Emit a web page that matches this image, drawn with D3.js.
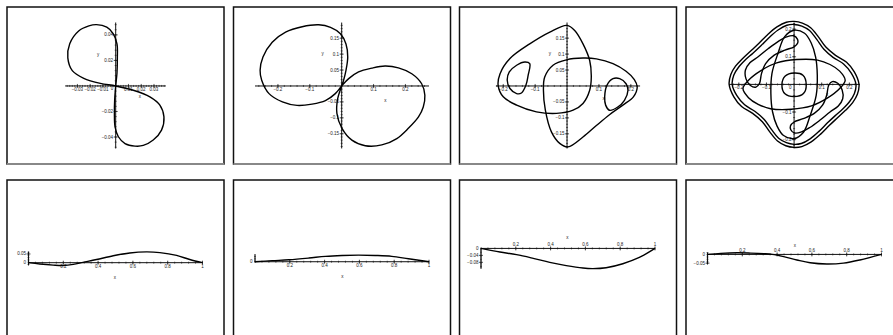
<!DOCTYPE html>
<html>
<head>
<meta charset="utf-8">
<script src="https://cdn.jsdelivr.net/npm/d3@7"></script>
<style>
    body { margin: 0; background: #fff; }
    svg { display: block; }
    .lbl { font-family: "Liberation Sans", Arial, sans-serif; font-size: 4.5px; fill: #222; }
</style>
</head>
<body>
<div id="chart"></div>
<script>
/* * * * * * * * * * * * * *
*   Maple style plot grid  *
* * * * * * * * * * * * * */

// ---- curve data (x, y in plot units) ----

// panel 1: figure eight through the origin
const p1Curve = [[0,0],[-0.012,0.002],[-0.025,0.006],[-0.034,0.012],[-0.0375,0.022],[-0.036,0.033],[-0.029,0.043],
    [-0.021,0.047],[-0.015,0.048],[-0.007,0.046],[-0.002,0.041],[0.001,0.033],[0.0013,0.022],[0.001,0.010],
    [0,0],[-0.0008,-0.011],[-0.001,-0.0216],[-0.0005,-0.032],[0.0021,-0.0398],[0.0073,-0.0451],[0.0151,-0.0471],
    [0.0216,-0.0466],[0.0294,-0.0424],[0.0359,-0.0346],[0.0378,-0.0242],[0.0346,-0.0151],[0.0268,-0.0086],[0.0138,-0.0034]];

// panel 2: two lobes through the origin
const p2Curve = [[0,0],[-0.020,-0.024],[-0.051,-0.046],[-0.093,-0.057],[-0.140,-0.061],[-0.186,-0.050],[-0.228,-0.024],
    [-0.251,0.018],[-0.256,0.049],[-0.247,0.091],[-0.218,0.1375],[-0.176,0.169],[-0.124,0.186],[-0.072,0.192],
    [-0.035,0.184],[-0.004,0.164],[0.0135,0.132],[0.019,0.091],[0.0135,0.049],[0.006,0.018],
    [0,0],[-0.0125,-0.040],[-0.015,-0.086],[0.001,-0.133],[0.032,-0.170],[0.074,-0.1875],[0.126,-0.185],
    [0.173,-0.165],[0.209,-0.133],[0.241,-0.097],[0.256,-0.066],[0.261,-0.029],[0.251,0.007],[0.220,0.0385],
    [0.178,0.057],[0.136,0.0625],[0.095,0.056],[0.053,0.044],[0.022,0.023]];

// panel 3: two big loops and two small ones
const p3BigA = [[0,0.190],[-0.054,0.169],[-0.117,0.132],[-0.179,0.086],[-0.210,0.0385],[-0.216,0.002],[-0.200,-0.034],
    [-0.158,-0.060],[-0.096,-0.081],[-0.033,-0.086],[0.019,-0.076],[0.050,-0.055],[0.071,-0.0135],[0.076,0.028],
    [0.071,0.080],[0.050,0.132],[0.024,0.174]];
const p3BigB = [[0.003,-0.191],[0.050,-0.160],[0.092,-0.124],[0.133,-0.090],[0.175,-0.060],[0.208,-0.034],[0.220,-0.003],
    [0.211,0.020],[0.185,0.046],[0.144,0.070],[0.092,0.085],[0.050,0.0875],[-0.002,0.082],[-0.044,0.065],
    [-0.070,0.028],[-0.074,-0.0135],[-0.068,-0.076],[-0.049,-0.144],[-0.023,-0.180]];
const p3SmallA = [[-0.117,0.070],[-0.132,0.075],[-0.158,0.065],[-0.181,0.044],[-0.1875,0.018],[-0.179,-0.008],
    [-0.158,-0.024],[-0.143,-0.022],[-0.129,0.002],[-0.122,0.033]];
const p3SmallB = [[0.144,0.023],[0.165,0.023],[0.185,0.007],[0.191,-0.0135],[0.180,-0.045],[0.159,-0.066],
    [0.133,-0.076],[0.121,-0.060],[0.118,-0.034],[0.125,0.002]];

// panel 4: double outer ring, two ovals, two S loops, small core
const p4RingA = [[0,0.228],[0.030,0.222],[0.060,0.205],[0.088,0.172],[0.115,0.135],[0.150,0.105],[0.190,0.080],[0.218,0.045],
    [0.235,0],[0.229,-0.036],[0.212,-0.066],[0.186,-0.094],[0.158,-0.120],[0.128,-0.148],[0.096,-0.180],[0.062,-0.208],[0.028,-0.225],
    [0,-0.228],[-0.030,-0.222],[-0.060,-0.205],[-0.088,-0.172],[-0.115,-0.135],[-0.150,-0.105],[-0.190,-0.080],[-0.218,-0.045],
    [-0.235,0],[-0.229,0.036],[-0.212,0.066],[-0.186,0.094],[-0.158,0.120],[-0.128,0.148],[-0.096,0.180],[-0.062,0.208],[-0.028,0.225]];
const p4RingB = [[0,0.217],[0.028,0.211],[0.056,0.195],[0.082,0.163],[0.108,0.127],[0.141,0.098],[0.179,0.074],[0.207,0.041],
    [0.224,0],[0.218,-0.034],[0.201,-0.062],[0.176,-0.089],[0.149,-0.113],[0.120,-0.140],[0.090,-0.170],[0.058,-0.197],[0.026,-0.214],
    [0,-0.217],[-0.028,-0.211],[-0.056,-0.195],[-0.082,-0.163],[-0.108,-0.127],[-0.141,-0.098],[-0.179,-0.074],[-0.207,-0.041],
    [-0.224,0],[-0.218,0.034],[-0.201,0.062],[-0.176,0.089],[-0.149,0.113],[-0.120,0.140],[-0.090,0.170],[-0.058,0.197],[-0.026,0.214]];
const p4Vert = [[0,0.196],[0.038,0.185],[0.062,0.150],[0.078,0.099],[0.084,0.033],[0.080,-0.040],[0.058,-0.113],[0.034,-0.173],
    [0,-0.196],[-0.038,-0.185],[-0.062,-0.150],[-0.078,-0.099],[-0.084,-0.033],[-0.080,0.040],[-0.058,0.113],[-0.034,0.173]];
const p4Horiz = [[0.185,0.015],[0.165,0.048],[0.130,0.072],[0.085,0.088],[0.010,0.090],[-0.063,0.078],[-0.120,0.050],[-0.165,0.015],
    [-0.185,-0.015],[-0.165,-0.048],[-0.130,-0.072],[-0.085,-0.088],[-0.010,-0.090],[0.063,-0.078],[0.120,-0.050],[0.165,-0.015]];
const p4LoopA = [[0.012,0.164],[-0.002,0.176],[-0.027,0.172],[-0.057,0.156],[-0.093,0.130],[-0.130,0.100],[-0.160,0.078],
    [-0.176,0.052],[-0.174,0.020],[-0.158,-0.004],[-0.138,-0.010],[-0.125,0.004],[-0.118,0.039],[-0.103,0.075],
    [-0.073,0.105],[-0.033,0.124],[0,0.136],[0.013,0.150]];
const p4LoopB = [[-0.012,-0.164],[0.002,-0.176],[0.027,-0.172],[0.057,-0.156],[0.093,-0.130],[0.130,-0.100],[0.160,-0.078],
    [0.176,-0.052],[0.174,-0.020],[0.158,0.004],[0.138,0.010],[0.125,-0.004],[0.118,-0.039],[0.103,-0.075],
    [0.073,-0.105],[0.033,-0.124],[0,-0.136],[-0.013,-0.150]];
const p4Core = [[0,0.041],[0.032,0.033],[0.044,-0.001],[0.034,-0.033],[0,-0.044],[-0.033,-0.034],[-0.044,-0.001],[-0.032,0.030]];

// bottom row: functions on [0, 1]
const p5Curve = [[0,0],[0.065,-0.008],[0.142,-0.014],[0.199,-0.016],[0.257,-0.010],[0.314,0.002],[0.391,0.018],
    [0.487,0.040],[0.582,0.056],[0.678,0.062],[0.755,0.058],[0.851,0.042],[0.927,0.018],[1,0]];
const p6Curve = [[0,0],[0.099,0.006],[0.195,0.011],[0.309,0.021],[0.405,0.031],[0.5,0.036],[0.595,0.038],
    [0.691,0.036],[0.786,0.031],[0.882,0.017],[1,0]];
const p7Curve = [[0,0],[0.109,-0.021],[0.204,-0.036],[0.300,-0.057],[0.395,-0.080],[0.490,-0.099],[0.586,-0.113],
    [0.643,-0.116],[0.719,-0.111],[0.815,-0.088],[0.910,-0.052],[1,0]];
const p8Curve = [[0,0],[0.076,0.006],[0.171,0.0095],[0.248,0.0076],[0.324,0.004],[0.371,0],[0.438,-0.013],
    [0.514,-0.032],[0.590,-0.048],[0.686,-0.055],[0.781,-0.050],[0.876,-0.032],[1,0]];

// ---- axis extents and tick labels ----
const p1XExt = [-0.0396, 0.0393], p1YExt = [-0.049, 0.0497];
const p1XTicks = [-0.03, -0.02, -0.01, 0.01, 0.02, 0.03], p1YTicks = [-0.04, -0.02, 0.02, 0.04];
const p2XExt = [-0.272, 0.274], p2YExt = [-0.196, 0.199];
const p3XExt = [-0.223, 0.229], p3YExt = [-0.196, 0.199];
const p23XTicks = [-0.2, -0.1, 0.1, 0.2], p23YTicks = [-0.15, -0.1, -0.05, 0.05, 0.1, 0.15];
const p4XExt = [-0.235, 0.238], p4YExt = [-0.232, 0.224];
const p4XTicks = [-0.2, -0.1, 0.1, 0.2], p4YTicks = [-0.2, -0.1, 0.1, 0.2];
const unitXExt = [0, 1], unitXTicks = [0.2, 0.4, 0.6, 0.8, 1];
const p5YExt = [-0.016, 0.064], p5YTicks = [0, 0.05];
const p6YExt = [-0.003, 0.040], p6YTicks = [0];
const p7YExt = [-0.116, 0], p7YTicks = [0, -0.04, -0.08];
const p8YExt = [-0.058, 0.011], p8YTicks = [0, -0.05];

// ---- layout ----
const panelX = [7, 233.5, 459.5, 686], panelY = [7, 180];
const panelW = 217, panelH = 157;
const boxW = 174, boxH = 126;

const panels = [
    {xExt: p1XExt, yExt: p1YExt, xTicks: p1XTicks, yTicks: p1YTicks, xMinor: 0.002, yMinor: 0.004,
        closed: [p1Curve], open: [], zero: true, xName: [0.019, -0.0085], yName: [-0.0138, 0.0247]},
    {xExt: p2XExt, yExt: p2YExt, xTicks: p23XTicks, yTicks: p23YTicks, xMinor: 0.02, yMinor: 0.01,
        closed: [p2Curve], open: [], xName: [0.137, -0.045], yName: [-0.060, 0.102]},
    {xExt: p3XExt, yExt: p3YExt, xTicks: p23XTicks, yTicks: p23YTicks, xMinor: 0.02, yMinor: 0.01,
        closed: [p3BigA, p3BigB, p3SmallA, p3SmallB], open: [], xName: [0.115, -0.039], yName: [-0.054, 0.102]},
    {xExt: p4XExt, yExt: p4YExt, xTicks: p4XTicks, yTicks: p4YTicks, xMinor: 0.02, yMinor: 0.02,
        closed: [p4RingA, p4RingB, p4Vert, p4Horiz, p4LoopA, p4LoopB, p4Core], open: [], zero: true,
        xName: [0.12, -0.035], yName: [-0.05, 0.122]},
    {xExt: unitXExt, yExt: p5YExt, xTicks: unitXTicks, yTicks: p5YTicks, xMinor: 0.04, yMinor: 0.01,
        closed: [], open: [p5Curve], xName: [0.496, -0.086]},
    {xExt: unitXExt, yExt: p6YExt, xTicks: unitXTicks, yTicks: p6YTicks, xMinor: 0.04, yMinor: 0.01,
        closed: [], open: [p6Curve], xName: [0.502, -0.086]},
    {xExt: unitXExt, yExt: p7YExt, xTicks: unitXTicks, yTicks: p7YTicks, xMinor: 0.04, yMinor: 0.008,
        closed: [], open: [p7Curve], above: true, xName: [0.496, 0.06]},
    {xExt: unitXExt, yExt: p8YExt, xTicks: unitXTicks, yTicks: p8YTicks, xMinor: 0.04, yMinor: 0.01,
        closed: [], open: [p8Curve], above: true, xName: [0.502, 0.053]}
];

const svg = d3.select("#chart").append("svg")
    .attr("width", 893)
    .attr("height", 335);

// format like maple: long minus sign
const fmt = d => (d < 0 ? "\u2212" : "") + Math.abs(d);

function minorTicks(ext, step) {
    return d3.range(Math.ceil(ext[0] / step - 1e-9), Math.floor(ext[1] / step + 1e-9) + 1).map(i => i * step);
}

function drawPanel(p, col, row) {
    let g = svg.append("g")
        .attr("transform", "translate(" + panelX[col] + "," + panelY[row] + ")");

    // frame, grey line at the bottom
    g.append("rect")
        .attr("width", panelW).attr("height", panelH)
        .attr("fill", "#fff").attr("stroke", "#111").attr("stroke-width", 1.5);
    g.append("line")
        .attr("x1", 0).attr("x2", panelW).attr("y1", panelH).attr("y2", panelH)
        .attr("stroke", "#888").attr("stroke-width", 1.8);

    // constrained scaling, centred in the panel
    let dx = p.xExt[1] - p.xExt[0], dy = p.yExt[1] - p.yExt[0];
    let k = Math.min(boxW / dx, boxH / dy);
    let xm = (p.xExt[0] + p.xExt[1]) / 2, ym = (p.yExt[0] + p.yExt[1]) / 2;
    let x = d3.scaleLinear().domain(p.xExt).range(p.xExt.map(v => panelW / 2 + (v - xm) * k));
    let y = d3.scaleLinear().domain(p.yExt).range(p.yExt.map(v => panelH / 2 - (v - ym) * k));
    let x0 = x(0), y0 = y(0);

    let ax = g.append("g").attr("stroke", "#111");

    // axis lines
    ax.append("line").attr("x1", x.range()[0]).attr("x2", x.range()[1]).attr("y1", y0).attr("y2", y0).attr("stroke-width", 1);
    ax.append("line").attr("x1", x0).attr("x2", x0).attr("y1", y.range()[0]).attr("y2", y.range()[1]).attr("stroke-width", 1);

    // minor ticks
    ax.selectAll(".xm").data(minorTicks(p.xExt, p.xMinor)).enter().append("line")
        .attr("x1", d => x(d)).attr("x2", d => x(d)).attr("y1", y0 - 1).attr("y2", y0 + 1).attr("stroke-width", 0.6);
    ax.selectAll(".ym").data(minorTicks(p.yExt, p.yMinor)).enter().append("line")
        .attr("y1", d => y(d)).attr("y2", d => y(d)).attr("x1", x0 - 1).attr("x2", x0 + 1).attr("stroke-width", 0.6);

    // major ticks
    ax.selectAll(".xM").data(p.xTicks).enter().append("line")
        .attr("x1", d => x(d)).attr("x2", d => x(d)).attr("y1", y0 - 2).attr("y2", y0 + 2).attr("stroke-width", 0.7);
    ax.selectAll(".yM").data(p.yTicks.filter(d => d !== 0)).enter().append("line")
        .attr("y1", d => y(d)).attr("y2", d => y(d)).attr("x1", x0 - 2).attr("x2", x0 + 2).attr("stroke-width", 0.7);

    // tick labels
    g.selectAll(".xl").data(p.xTicks).enter().append("text")
        .attr("class", "lbl")
        .attr("x", d => x(d))
        .attr("y", y0 + (p.above ? -3.6 : 3.6))
        .attr("text-anchor", "middle")
        .attr("dominant-baseline", "central")
        .text(fmt);
    g.selectAll(".yl").data(p.yTicks).enter().append("text")
        .attr("class", "lbl")
        .attr("x", x0 - 2.6)
        .attr("y", d => y(d))
        .attr("text-anchor", "end")
        .attr("dominant-baseline", "central")
        .text(fmt);
    if (p.zero) {
        g.append("text").attr("class", "lbl")
            .attr("x", x0 - 2.5).attr("y", y0 + 3)
            .attr("text-anchor", "end").attr("dominant-baseline", "central")
            .text("0");
    }

    // axis names
    g.append("text").attr("class", "lbl")
        .attr("x", x(p.xName[0])).attr("y", y(p.xName[1]))
        .attr("text-anchor", "middle").attr("dominant-baseline", "central")
        .text("x");
    if (p.yName) {
        g.append("text").attr("class", "lbl")
            .attr("x", x(p.yName[0])).attr("y", y(p.yName[1]))
            .attr("text-anchor", "middle").attr("dominant-baseline", "central")
            .text("y");
    }

    // curves
    let closedLine = d3.line().x(d => x(d[0])).y(d => y(d[1])).curve(d3.curveCatmullRomClosed.alpha(0.5));
    let openLine = d3.line().x(d => x(d[0])).y(d => y(d[1])).curve(d3.curveCatmullRom.alpha(0.5));

    g.selectAll(".loop").data(p.closed).enter().append("path")
        .attr("d", closedLine)
        .attr("fill", "none").attr("stroke", "#000").attr("stroke-width", 1.4);
    g.selectAll(".fn").data(p.open).enter().append("path")
        .attr("d", openLine)
        .attr("fill", "none").attr("stroke", "#000").attr("stroke-width", 1.4);
}

panels.forEach((p, i) => drawPanel(p, i % 4, Math.floor(i / 4)));
</script>
</body>
</html>
